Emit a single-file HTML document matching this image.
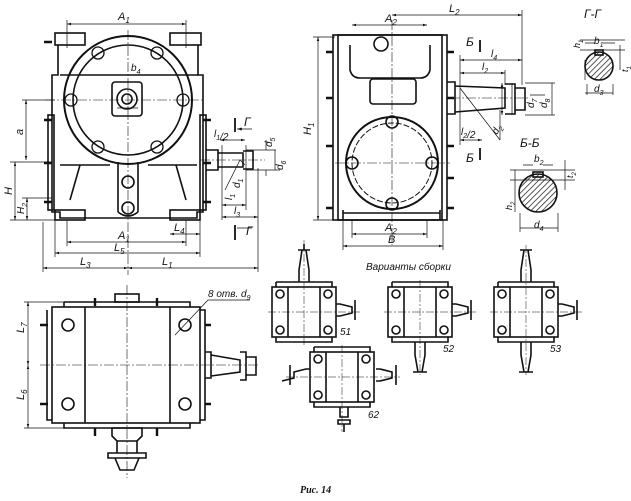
<!DOCTYPE html>
<html><head><meta charset="utf-8"><style>
html,body{margin:0;padding:0;background:#fff;width:631px;height:501px;overflow:hidden}
svg{display:block}
text{font-family:"Liberation Sans",sans-serif;font-style:italic;fill:#111}
</style></head><body>
<svg width="631" height="501" viewBox="0 0 631 501" xmlns="http://www.w3.org/2000/svg">
<defs>
<marker id="a" viewBox="0 0 10 10" refX="10" refY="5" markerWidth="6" markerHeight="6" orient="auto-start-reverse"><path d="M0,2 L10,5 L0,8z" fill="#111"/></marker>
<pattern id="h" width="4" height="4" patternUnits="userSpaceOnUse" patternTransform="rotate(45)"><line x1="0" y1="0" x2="0" y2="4" stroke="#111" stroke-width="1.4"/></pattern>
</defs>
<g fill="none" stroke="#111" stroke-width="1.6">
<rect x="55" y="33" width="30" height="12"/><rect x="170" y="33" width="31" height="12"/>
<path d="M58,45 V75 H52 V212 H60 V218 H197 V212 H203 V75 H198 V45"/>
<path d="M60,75 H198"/>
<rect x="48" y="115" width="6" height="95"/><rect x="200" y="115" width="6" height="95"/>
<circle cx="128" cy="100" r="64" stroke-width="2"/>
<circle cx="128" cy="100" r="55"/>
<g stroke-width="1.3">
<circle cx="98" cy="53" r="6"/><circle cx="157" cy="53" r="6"/>
<circle cx="71" cy="100" r="6"/><circle cx="183" cy="100" r="6"/>
<circle cx="98" cy="147" r="6"/><circle cx="157" cy="147" r="6"/></g>
<rect x="112" y="82" width="30" height="34" rx="3"/>
<circle cx="127" cy="99" r="10"/><circle cx="127" cy="99" r="5"/>
<path d="M118,162 V212 M138,162 V212 M118,212 Q128,220 138,212"/>
<circle cx="128" cy="182" r="6"/><circle cx="128" cy="208" r="6"/>
<path d="M60,165 H110 M148,165 H197 M80,165 L70,200 M176,165 L186,200"/>
<rect x="55" y="210" width="30" height="10"/><rect x="170" y="210" width="30" height="10"/>
<g stroke-width="2.4"><path d="M44,42 h8 M44,120 h8 M44,163 h8 M44,202 h8 M203,120 h8 M203,163 h8 M203,202 h8"/></g>
<path d="M206,150 h12 v20 h-12 M218,153 h25 v14 h-25 M243,151 h10 v18 h-10"/>
<g stroke-width="0.6" stroke-dasharray="10,2,2,2"><path d="M128,30 V275 M45,100 H205 M200,160 H265"/></g>
<g stroke-width="0.7">
<path d="M67,24 H186" marker-start="url(#a)" marker-end="url(#a)"/><path d="M67,20 V48 M186,20 V48"/>
<path d="M67,242 H186" marker-start="url(#a)" marker-end="url(#a)"/><path d="M67,220 V246 M186,220 V246"/>
<path d="M55,253 H200" marker-start="url(#a)" marker-end="url(#a)"/><path d="M55,220 V257 M200,220 V257"/>
<path d="M43,268 H128" marker-start="url(#a)" marker-end="url(#a)"/><path d="M128,268 H258" marker-start="url(#a)" marker-end="url(#a)"/>
<path d="M43,222 V272 M258,168 V272"/>
<path d="M170,234 H200" marker-start="url(#a)" marker-end="url(#a)"/>
<path d="M26,100 V160" marker-start="url(#a)" marker-end="url(#a)"/><path d="M22,100 H55"/>
<path d="M15,162 V220" marker-start="url(#a)" marker-end="url(#a)"/><path d="M10,162 H52 M10,220 H55"/>
<path d="M27,198 V220" marker-start="url(#a)" marker-end="url(#a)"/><path d="M22,198 H52"/>
<path d="M220,140 H245" marker-start="url(#a)" marker-end="url(#a)"/>
<path d="M222,205 H246" marker-start="url(#a)" marker-end="url(#a)"/>
<path d="M222,217 H258" marker-start="url(#a)" marker-end="url(#a)"/>
<path d="M222,145 V220 M246,145 V210"/>
<path d="M266,140 V150 M266,170 V176 M275,150 V170" />
<path d="M246,150 H276 M246,170 H280"/>
<path d="M117,108 H138"/>
<path d="M225,190 L240,160 L245,165"/>
</g>
<g stroke-width="1.8"><path d="M235,118 V132 M235,225 V240"/></g>
<path d="M237,129 H252 M237,228 H252" stroke-width="0.8" marker-start="url(#a)"/>

<rect x="333" y="35" width="114" height="185"/>
<rect x="338" y="35" width="104" height="185"/>
<path d="M350,45 V70 Q352,78 360,78 H420 Q428,78 430,70 V45"/>
<circle cx="381" cy="44" r="7"/>
<rect x="370" y="79" width="46" height="25" rx="3"/>
<circle cx="392" cy="163" r="46" stroke-width="2"/>
<circle cx="392" cy="163" r="40" stroke-dasharray="6,2" stroke-width="1"/>
<circle cx="392" cy="122" r="6"/><circle cx="392" cy="204" r="6"/>
<circle cx="352" cy="163" r="6"/><circle cx="432" cy="163" r="6"/>
<path d="M343,213 H440 M343,210 v10 M440,210 v10"/>
<g stroke-width="2.4"><path d="M326,52 h7 M326,98 h7 M326,146 h7 M326,208 h7 M447,52 h7 M447,98 h7 M447,146 h7 M447,178 h7 M447,208 h7"/></g>
<path d="M447,82 h8 v32 h-8 M455,86 L505,88 V108 L455,112 M505,84 h10 v30 h-10 M515,88 h10 v22 h-10"/>
<g stroke-width="0.6" stroke-dasharray="10,2,2,2"><path d="M392,20 V245 M335,163 H450 M450,98 H530"/></g>
<g stroke-width="0.7">
<path d="M352,25 H427" marker-start="url(#a)" marker-end="url(#a)"/>
<path d="M392,15 H522" marker-start="url(#a)" marker-end="url(#a)"/><path d="M522,10 V85"/>
<path d="M460,60 H522" marker-start="url(#a)" marker-end="url(#a)"/>
<path d="M460,73 H505" marker-start="url(#a)" marker-end="url(#a)"/>
<path d="M460,55 V145 M505,70 V85"/>
<path d="M460,140 H482" marker-start="url(#a)" marker-end="url(#a)"/>
<path d="M318,37 V220" marker-start="url(#a)" marker-end="url(#a)"/><path d="M313,37 H335 M313,220 H335"/>
<path d="M352,234 H427" marker-start="url(#a)" marker-end="url(#a)"/>
<path d="M343,246 H443" marker-start="url(#a)" marker-end="url(#a)"/><path d="M343,220 V250 M443,220 V250 M352,220 V238 M427,220 V238"/>
<path d="M502,83 V115" marker-start="url(#a)" marker-end="url(#a)"/>
<path d="M512,83 V115 M525,83 H555 M525,115 H555 M530,95 H545 M552,83 V115"/>
<path d="M460,88 L500,140 M500,110 V140"/>
</g>
<g stroke-width="1.8"><path d="M480,40 V52 M480,148 V160"/></g>
<circle cx="599" cy="66" r="14" fill="url(#h)"/>
<rect x="595" y="50" width="8" height="5"/>
<g stroke-width="0.7"><path d="M580,40 H625 M580,50 H625 M585,60 V80 M587,84 V95 M613,84 V95 M585,93 H613 M620,45 V70 M585,43 H595 M603,43 H615"/></g>
<circle cx="538" cy="193" r="19" fill="url(#h)"/>
<rect x="533" y="172" width="10" height="5"/>
<g stroke-width="0.7"><path d="M510,170 H575 M510,180 H575 M515,170 V212 M520,213 V232 M558,213 V232 M520,228 H558 M565,160 V190 M523,165 H533 M543,165 H553"/></g>

<rect x="52" y="307" width="148" height="116"/>
<path d="M64,302 H190 V307 M64,302 V307 M64,423 V428 H190 V423"/>
<path d="M85,307 V423 M170,307 V423"/>
<rect x="115" y="294" width="24" height="8"/>
<path d="M47,310 V420 H52 M200,310 h5 V420 h-5"/>
<circle cx="68" cy="325" r="6"/><circle cx="185" cy="325" r="6"/>
<circle cx="68" cy="404" r="6"/><circle cx="185" cy="404" r="6"/>
<path d="M205,352 h6 v26 h-6 M211,355 L240,360 V372 L211,376 M240,352 h6 v28 h-6 M246,357 h10 v18 h-10"/>
<path d="M112,428 h30 v8 l-5,5 h-20 l-5,-5z M117,441 h20 v12 h-20z M108,453 h38 v5 h-38z M115,458 h24 l-5,12 h-14z"/>
<path d="M40,325 h8 M40,404 h8 M205,325 h6 M205,404 h6 M95,298 v8 M157,298 v8 M95,428 v8 M157,428 v8" stroke-width="2.4"/>
<g stroke-width="0.6" stroke-dasharray="10,2,2,2"><path d="M127,285 V478 M40,365 H258"/></g>
<g stroke-width="0.7">
<path d="M28,302 V365" marker-start="url(#a)" marker-end="url(#a)"/>
<path d="M28,365 V428" marker-start="url(#a)" marker-end="url(#a)"/>
<path d="M24,302 H64 M24,428 H64"/>
<path d="M250,300 H208 L175,335"/>
</g>

<g id="v">
<rect x="272" y="287" width="64" height="50"/>
<path d="M276,282 h56 v5 M276,282 v5 M276,337 v5 h56 v-5 M288,287 v50 M320,287 v50"/>
<circle cx="280" cy="294" r="4"/><circle cx="328" cy="294" r="4"/><circle cx="280" cy="330" r="4"/><circle cx="328" cy="330" r="4"/>
</g>
<path d="M299,282 V270 L302,250 H306 L309,270 V282 M298,250 h12 M304,244 v6" />
<path d="M336,304 h4 l12,3 v6 l-12,3 h-4 M355,300 v20"/>
<use href="#v" x="116"/>
<path d="M452,304 h4 l12,3 v6 l-12,3 h-4 M471,300 v20"/>
<path d="M415,342 V355 L418,372 H422 L425,355 V342 M413,372 h14"/>
<use href="#v" x="222"/>
<path d="M521,282 V270 L524,250 H528 L531,270 V282 M520,250 h12"/>
<path d="M558,304 h4 l12,3 v6 l-12,3 h-4 M577,300 v20"/>
<path d="M521,342 V355 L524,372 H528 L531,355 V342 M519,372 h14"/>
<use href="#v" x="38" y="65"/>
<path d="M310,369 h-4 l-12,3 v6 l-12,3 M290,365 v20 M376,369 h4 l12,3 v6 l-12,3 h-4 M396,365 v20"/>
<path d="M340,407 v10 h8 v-10 M338,420 h12 v4 h-12z M344,424 v8"/>
<g stroke-width="0.5" stroke-dasharray="8,2,2,2"><path d="M268,312 H362 M304,240 V345 M384,312 H478 M420,280 V375 M490,312 H582 M526,245 V375 M286,377 H400 M342,345 V432"/></g>
</g>
<g font-size="11">
<text x="118" y="20">A<tspan font-size="8" dy="3">1</tspan></text>
<text x="118" y="239">A<tspan font-size="8" dy="3">1</tspan></text>
<text x="114" y="251">L<tspan font-size="8" dy="3">5</tspan></text>
<text x="80" y="265">L<tspan font-size="8" dy="3">3</tspan></text>
<text x="162" y="265">L<tspan font-size="8" dy="3">1</tspan></text>
<text x="174" y="231">L<tspan font-size="8" dy="3">4</tspan></text>
<text x="131" y="71" font-size="10">b<tspan font-size="7" dy="3">4</tspan></text>
<text x="23" y="135" transform="rotate(-90 23 135)">a</text>
<text x="12" y="195" transform="rotate(-90 12 195)">H</text>
<text x="24" y="214" transform="rotate(-90 24 214)" font-size="10">H<tspan font-size="7" dy="3">2</tspan></text>
<text x="214" y="137" font-size="10">l<tspan font-size="7" dy="3">1</tspan>/2</text>
<text x="234" y="214" font-size="10">l<tspan font-size="7" dy="3">3</tspan></text>
<text x="272" y="147" transform="rotate(-90 272 147)" font-size="10">d<tspan font-size="7" dy="3">5</tspan></text>
<text x="283" y="170" transform="rotate(-90 283 170)" font-size="10">d<tspan font-size="7" dy="3">6</tspan></text>
<text x="232" y="200" transform="rotate(-90 232 200)" font-size="10">l<tspan font-size="7" dy="3">1</tspan></text>
<text x="240" y="188" transform="rotate(-90 240 188)" font-size="10">d<tspan font-size="7" dy="3">1</tspan></text>
<text x="244" y="126" font-size="12">Г</text>
<text x="246" y="235" font-size="12">Г</text>
<text x="385" y="22">A<tspan font-size="8" dy="3">2</tspan></text>
<text x="449" y="12">L<tspan font-size="8" dy="3">2</tspan></text>
<text x="491" y="57" font-size="10">l<tspan font-size="7" dy="3">4</tspan></text>
<text x="482" y="70" font-size="10">l<tspan font-size="7" dy="3">2</tspan></text>
<text x="461" y="135" font-size="10">l<tspan font-size="7" dy="3">2</tspan>/2</text>
<text x="311" y="135" transform="rotate(-90 311 135)">H<tspan font-size="8" dy="3">1</tspan></text>
<text x="385" y="231">A<tspan font-size="8" dy="3">2</tspan></text>
<text x="388" y="243">B</text>
<text x="466" y="46" font-size="12">Б</text>
<text x="466" y="162" font-size="12">Б</text>
<text x="534" y="108" transform="rotate(-90 534 108)" font-size="10">d<tspan font-size="7" dy="3">7</tspan></text>
<text x="547" y="108" transform="rotate(-90 547 108)" font-size="10">d<tspan font-size="7" dy="3">8</tspan></text>
<text x="497" y="135" transform="rotate(-60 497 135)" font-size="10">d<tspan font-size="7" dy="3">2</tspan></text>
<text x="584" y="18" font-size="12">Г-Г</text>
<text x="594" y="44" font-size="10">b<tspan font-size="7" dy="3">1</tspan></text>
<text x="580" y="48" transform="rotate(-90 580 48)" font-size="9">h<tspan font-size="6" dy="3">1</tspan></text>
<text x="628" y="72" transform="rotate(-90 628 72)" font-size="9">t<tspan font-size="6" dy="3">1</tspan></text>
<text x="594" y="92" font-size="10">d<tspan font-size="7" dy="3">3</tspan></text>
<text x="520" y="147" font-size="12">Б-Б</text>
<text x="534" y="162" font-size="10">b<tspan font-size="7" dy="3">2</tspan></text>
<text x="573" y="178" transform="rotate(-90 573 178)" font-size="9">t<tspan font-size="6" dy="3">2</tspan></text>
<text x="512" y="210" transform="rotate(-90 512 210)" font-size="9">h<tspan font-size="6" dy="3">2</tspan></text>
<text x="534" y="228" font-size="10">d<tspan font-size="7" dy="3">4</tspan></text>
<text x="24" y="333" transform="rotate(-90 24 333)">L<tspan font-size="8" dy="3">7</tspan></text>
<text x="24" y="400" transform="rotate(-90 24 400)">L<tspan font-size="8" dy="3">6</tspan></text>
<text x="208" y="297" font-size="10" font-style="normal">8 отв. <tspan font-style="italic">d</tspan><tspan font-size="7" dy="3">9</tspan></text>
<text x="366" y="270" font-size="10">Варианты сборки</text>
<text x="340" y="335" font-size="10" font-style="normal">51</text>
<text x="443" y="352" font-size="10" font-style="normal">52</text>
<text x="550" y="352" font-size="10" font-style="normal">53</text>
<text x="368" y="418" font-size="10" font-style="normal">62</text>
<text x="300" y="493" font-size="10" font-style="normal" font-weight="bold" style="font-family:'Liberation Serif',serif">Рис. 14</text>
</g>
</svg>
</body></html>
